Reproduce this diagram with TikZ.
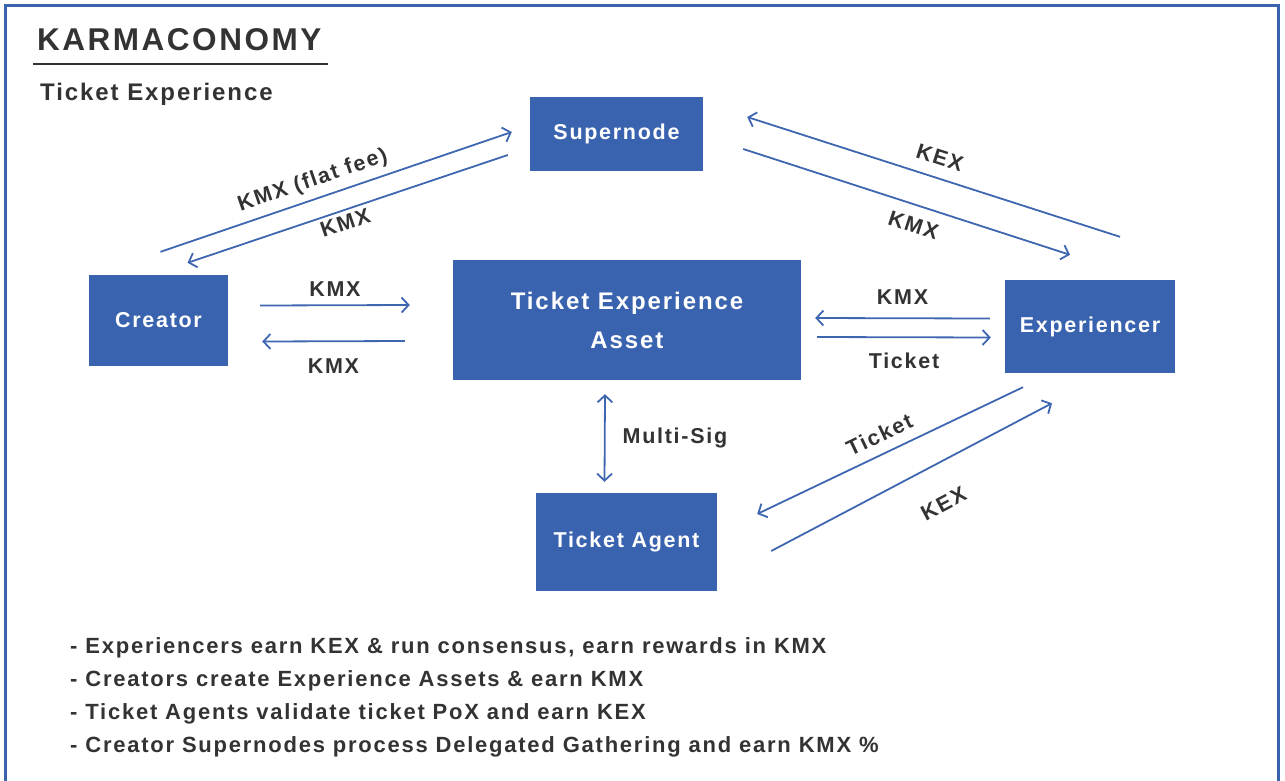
\documentclass[tikz,border=0pt]{standalone}
\usepackage{fontspec}
\setmainfont{Liberation Sans}[LetterSpace=8]
\usetikzlibrary{arrows.meta}
\definecolor{boxblue}{HTML}{3A63AF}
\definecolor{lineblue}{HTML}{3F66B0}
\definecolor{txtgray}{HTML}{333333}

\begin{document}
\begin{tikzpicture}[x=1pt,y=-1pt,
  box/.style={fill=boxblue,text=white,inner sep=0pt,align=center,
    font=\bfseries\fontsize{21.5}{26}\selectfont},
  barb/.tip={Straight Barb[length=7pt,width=15pt,line width=1.8pt]},
  flow/.style={draw=lineblue,line width=1.8pt,-barb},
  lbl/.style={text=txtgray,inner sep=2pt,font=\bfseries\fontsize{21.5}{26}\selectfont},
  note/.style={text=txtgray,inner sep=0pt,anchor=base west,font=\bfseries\fontsize{22}{26}\selectfont}]
\useasboundingbox (0,0) rectangle (1285,780);
% frame
\draw[boxblue,line width=3pt] (5.5,790) -- (5.5,5.5) -- (1278,5.5) -- (1278,790);
% title
\node[lbl,inner sep=0pt,anchor=base west,font=\bfseries\fontsize{31.5}{36}\selectfont] (title) at (37,50) {KARMACONOMY};
\draw[txtgray,line width=2pt] (33,63.5) -- (328,63.5);
\node[lbl,inner sep=0pt,anchor=base west,font=\bfseries\fontsize{24}{28}\selectfont] (sub) at (40,100) {Ticket Experience};
% boxes
\node[box,minimum width=173pt,minimum height=74pt] (super) at (616.5,134) {Supernode};
\node[box,minimum width=139pt,minimum height=91pt] (creator) at (158.5,320.5) {Creator};
\node[box,minimum width=348pt,minimum height=120pt,font=\bfseries\fontsize{24}{39}\selectfont] (asset) at (627,320) {Ticket Experience\\Asset};
\node[box,minimum width=170pt,minimum height=93pt] (exper) at (1090,326.5) {Experiencer};
\node[box,minimum width=181pt,minimum height=98pt] (agent) at (626.5,542) {Ticket Agent};
% Supernode links
\draw[flow] ([shift={(2,-23)}]creator.north) -- ([shift={(-18,-2)}]super.west)
  node[lbl,pos=0.45,sloped,above=5pt] {KMX (flat fee)};
\draw[flow] ([shift={(-22,21)}]super.west) -- ([shift={(29,-12)}]creator.north)
  node[lbl,pos=0.52,sloped,below=2pt] {KMX};
\draw[flow] ([shift={(30,-43)}]exper.north) -- ([shift={(44,-17)}]super.east)
  node[lbl,pos=0.5,sloped,above=10pt] {KEX};
\draw[flow] ([shift={(40,15)}]super.east) -- ([shift={(-20,-25)}]exper.north)
  node[lbl,pos=0.54,sloped,below=10pt] {KMX};
% Asset links
\draw[flow] ([shift={(32,-15)}]creator.east) -- ([shift={(-43,-15)}]asset.west)
  node[lbl,midway,above=6pt] {KMX};
\draw[flow] ([shift={(-48,21)}]asset.west) -- ([shift={(34,21)}]creator.east)
  node[lbl,midway,below=15pt] {KMX};
\draw[flow] ([shift={(-15,-8)}]exper.west) -- ([shift={(14,-2)}]asset.east)
  node[lbl,midway,above=11pt] {KMX};
\draw[flow] ([shift={(16,17)}]asset.east) -- ([shift={(-14,11)}]exper.west)
  node[lbl,midway,below=13pt] {Ticket};
\draw[flow,barb-barb] ([shift={(-22,14)}]asset.south) -- ([shift={(-22,-11)}]agent.north)
  node[lbl,midway,right=15pt] {Multi-Sig};
% Agent links
\draw[flow] ([shift={(-67,14)}]exper.south) -- ([shift={(40,-28)}]agent.east)
  node[lbl,pos=0.51,sloped,above=8pt] {Ticket};
\draw[flow] ([shift={(54,9)}]agent.east) -- ([shift={(-38,30)}]exper.south)
  node[lbl,pos=0.55,sloped,below=28pt] {KEX};
% notes
\node[note] (n1) at (70,653) {- Experiencers earn KEX \& run consensus, earn rewards in KMX};
\node[note] (n2) at (70,686) {- Creators create Experience Assets \& earn KMX};
\node[note] (n3) at (70,719) {- Ticket Agents validate ticket PoX and earn KEX};
\node[note] (n4) at (70,752) {- Creator Supernodes process Delegated Gathering and earn KMX \%};
\end{tikzpicture}
\end{document}
